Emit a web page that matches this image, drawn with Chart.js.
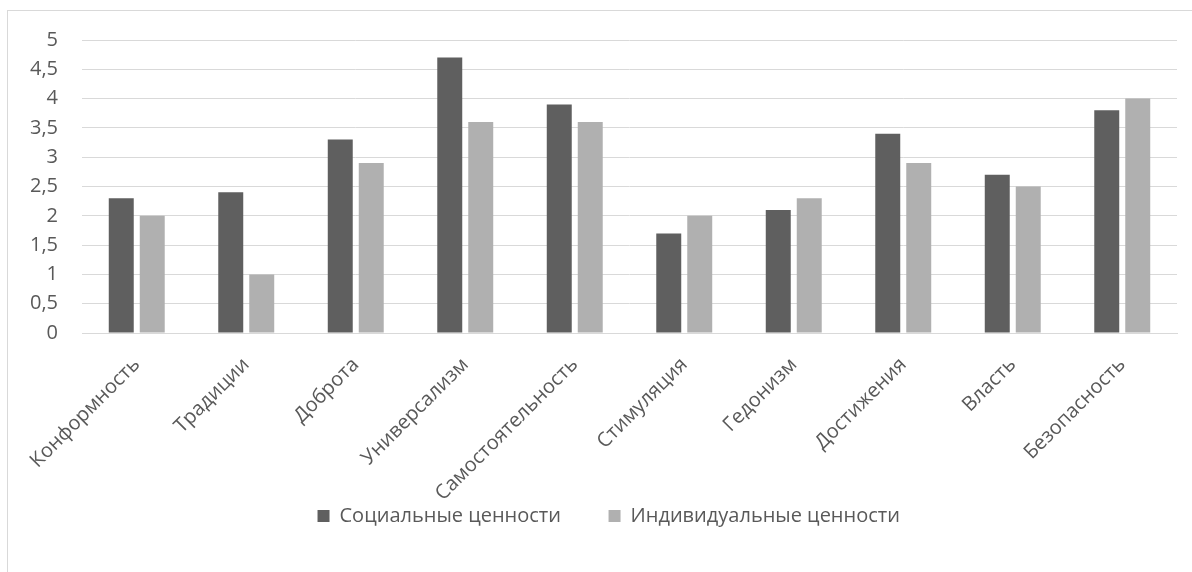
<!DOCTYPE html>
<html>
<head>
<meta charset="utf-8">
<script src="https://cdn.jsdelivr.net/npm/chart.js@4.4.1/dist/chart.umd.min.js"></script>
<style>
  html, body { margin: 0; padding: 0; background: #fff; }
  #frame {
    position: absolute; left: 7px; top: 10px; width: 1200px; height: 580px;
    border: 1px solid #d9d9d9; box-sizing: border-box;
  }
  #wrap { position: absolute; left: 0; top: 0; width: 1192px; height: 572px; }
</style>
</head>
<body>
<div id="frame"></div>
<div id="wrap"><canvas id="chart"></canvas></div>
<script>
// --- данные ---
const categories = [
  'Конформность', 'Традиции', 'Доброта', 'Универсализм', 'Самостоятельность',
  'Стимуляция', 'Гедонизм', 'Достижения', 'Власть', 'Безопасность',
];
const socialValues = [2.3, 2.4, 3.3, 4.7, 3.9, 1.7, 2.1, 3.4, 2.7, 3.8];
const individualValues = [2.0, 1.0, 2.9, 3.6, 3.6, 2.0, 2.3, 2.9, 2.5, 4.0];
const seriesNames = ['Социальные ценности', 'Индивидуальные ценности'];

const textColor = '#595959';
const gridColor = '#d9d9d9';
const fontFamily = '"Open Sans", "Noto Sans", sans-serif';
const legendGap = '\u00a0'.repeat(8); // широкий промежуток между пунктами легенды

const ctx = document.getElementById('chart').getContext('2d');
new Chart(ctx, {
  type: 'bar',
  data: {
    labels: categories,
    datasets: [
      {
        label: seriesNames[0],
        data: socialValues,
        backgroundColor: '#5f5f5f',
        categoryPercentage: 0.566,
        barPercentage: 0.806,
      },
      {
        label: seriesNames[1],
        data: individualValues,
        backgroundColor: '#b0b0b0',
        categoryPercentage: 0.566,
        barPercentage: 0.806,
      },
    ],
  },
  options: {
    responsive: true,
    maintainAspectRatio: false,
    animation: false,
    layout: { padding: { top: 40, right: 15, bottom: 36, left: 0 } },
    scales: {
      x: {
        grid: { display: false, drawTicks: false },
        border: { color: gridColor },
        ticks: {
          color: textColor,
          font: { family: fontFamily, size: 20 },
          minRotation: 45,
          maxRotation: 45,
          padding: 20,
        },
        afterFit: (s) => { s.height = 167; },
      },
      y: {
        min: 0,
        max: 5,
        grid: { color: gridColor, drawTicks: false },
        border: { display: false },
        ticks: {
          stepSize: 0.5,
          color: textColor,
          font: { family: fontFamily, size: 20 },
          padding: 24,
          callback: (v) => String(v).replace('.', ','),
        },
        afterFit: (s) => { s.width = 82; },
      },
    },
    plugins: {
      legend: {
        position: 'bottom',
        fullSize: false,
        labels: {
          color: textColor,
          font: { family: fontFamily, size: 20 },
          boxWidth: 12,
          boxHeight: 12,
          padding: 6,
          generateLabels: (chart) =>
            Chart.defaults.plugins.legend.labels.generateLabels(chart).map((item) => {
              item.text = item.text + legendGap;
              return item;
            }),
        },
      },
      tooltip: { enabled: false },
    },
  },
});
</script>
</body>
</html>
